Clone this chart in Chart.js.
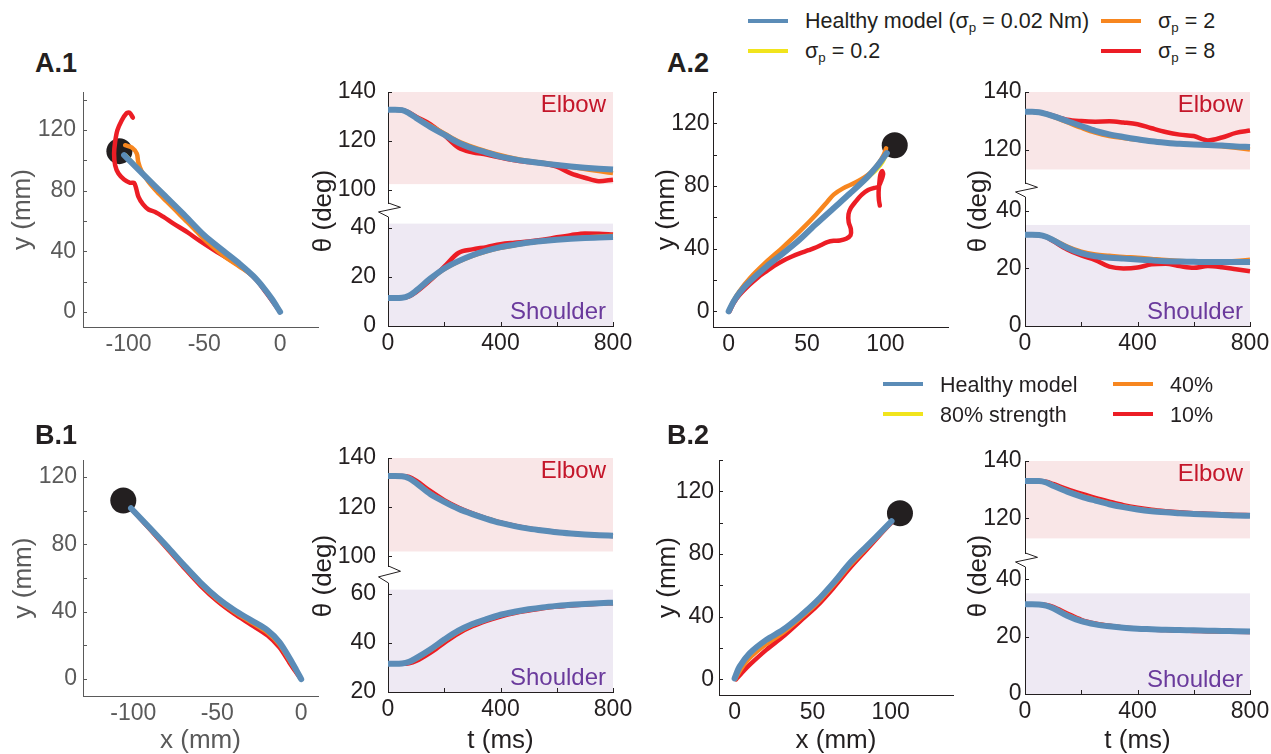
<!DOCTYPE html>
<html>
<head>
<meta charset="utf-8">
<title>Reaching under noise and weakness</title>
<script src="https://cdn.jsdelivr.net/npm/chart.js@4.4.1/dist/chart.umd.min.js"></script>
<style>
  html, body { margin: 0; padding: 0; background: #fff; }
  body { position: relative; width: 1271px; height: 754px; overflow: hidden;
         font-family: "Liberation Sans", Arial, Helvetica, sans-serif; color: #231f20; }
  canvas { position: absolute; }
  .lbl { position: absolute; white-space: nowrap; }
  .sw { position: absolute; height: 4px; width: 40px; }
  sub { font-size: 0.62em; vertical-align: -0.3em; line-height: 0; }
</style>
</head>
<body>
<script>
// ---- shared axes -------------------------------------------------------
const T = [0, 25, 50, 75, 100, 150, 200, 250, 300, 350, 400, 450, 500, 550, 600, 650, 700, 750, 800];
const timeTicks = [0, 200, 400, 600, 800];
const timeLabels = [0, 400, 800];
const trajYTicks = [0, 20, 40, 60, 80, 100, 120, 140];
const trajYTicksB1 = [0, 20, 40, 60, 80, 100, 120];
const trajYLabels = [0, 40, 80, 120];
const trajXLeft = [-100, -50, 0];
const trajXRight = [0, 50, 100];
const elbowTicksWide = [100, 120, 140];
const elbowTicksNarrow = [120, 140];
const shoulderTicks = [0, 20, 40];
const shoulderTicksB1 = [20, 40, 60];

// ---- legends -----------------------------------------------------------
const legendA = ['Healthy model (σ<sub>p</sub> = 0.02 Nm)', 'σ<sub>p</sub> = 0.2', 'σ<sub>p</sub> = 2', 'σ<sub>p</sub> = 8'];
const legendB = ['Healthy model', '80% strength', '40%', '10%'];

// ---- A.1 : motor noise, leftward reach -----------------------------------
const a1Target = [-106, 106];
const a1TrajHealthy = [[-102.9, 103.3], [-90.1, 90.5], [-76.9, 77.4], [-63.7, 64.4], [-50.1, 50.5], [-37.4, 40.2], [-26.4, 31.4], [-17.6, 23.5], [-11, 16], [-5.5, 8.6], [0, 0]];
const a1TrajLow = [[-101.5, 103.5], [-90, 91.3], [-77, 78.4], [-63.7, 65.2], [-50.1, 51], [-37.4, 40.6], [-26.4, 31.6], [-17.6, 23.6], [-11, 16], [-5.5, 8.6], [0, 0]];
const a1TrajMid = [[-102.2, 109.9], [-97.8, 108.4], [-94.5, 104.4], [-93.6, 99], [-91.5, 93], [-87, 86], [-81, 79], [-75, 73], [-69, 67], [-63, 61], [-57, 55], [-51, 48.8], [-44, 42.5], [-36, 36], [-27, 30], [-17.6, 23.3], [-11, 16], [-5.5, 8.6], [0, 0]];
const a1TrajHigh = [[-97.1, 128.1], [-99.3, 131.4], [-101.5, 130.8], [-104.4, 126.4], [-107.3, 119.8], [-108.8, 112.1], [-109.5, 104.4], [-108.8, 96.7], [-106.6, 91.2], [-102.9, 87.3], [-98.9, 85.1], [-96.3, 85.1], [-94.9, 81.3], [-93.4, 75.8], [-90.5, 71], [-86.8, 67.5], [-82.4, 65.9], [-76.9, 62.6], [-70.3, 58.2], [-61.5, 52.7], [-52.7, 46.6], [-41.8, 39.6], [-30.8, 33], [-22, 27], [-15.4, 20.9], [-8.8, 12.1], [0, 0]];
const a1ElbowHealthy = [132.8, 132.8, 132.6, 131.3, 129.4, 125.8, 122.6, 119.3, 117.0, 115.3, 113.6, 112.5, 111.6, 110.9, 110.2, 109.6, 109.1, 108.7, 108.4];
const a1ElbowLow = [132.8, 132.8, 132.6, 131.4, 129.5, 126.0, 122.8, 119.6, 117.3, 115.5, 113.9, 112.7, 111.8, 111.0, 110.3, 109.6, 109.0, 108.5, 108.1];
const a1ElbowMid = [132.8, 132.8, 132.6, 131.4, 129.6, 126.3, 123.1, 119.9, 117.6, 115.8, 114.2, 112.9, 111.9, 111.1, 110.3, 109.5, 108.6, 107.7, 106.9];
const a1ElbowHigh = [132.8, 132.8, 132.7, 131.6, 129.9, 126.9, 122.4, 117.3, 115.4, 114.5, 113.2, 112.1, 111.4, 110.8, 109.5, 106.8, 105.0, 103.6, 104.2];
const a1ShoulderHealthy = [11.4, 11.4, 11.5, 12.4, 14.4, 19.3, 23.5, 26.5, 28.9, 30.8, 32.2, 33.2, 34.1, 34.7, 35.2, 35.6, 35.9, 36.1, 36.3];
const a1ShoulderLow = [11.4, 11.4, 11.5, 12.4, 14.3, 19.2, 23.4, 26.4, 28.8, 30.7, 32.1, 33.2, 34.1, 34.8, 35.3, 35.7, 36.0, 36.3, 36.5];
const a1ShoulderMid = [11.4, 11.4, 11.5, 12.3, 14.2, 19.0, 23.2, 26.2, 28.6, 30.5, 31.9, 33.0, 33.9, 34.6, 35.2, 35.7, 36.1, 36.5, 36.8];
const a1ShoulderHigh = [11.4, 11.4, 11.5, 12.1, 13.8, 18.6, 24.2, 29.8, 31.3, 32.2, 33.4, 34.0, 34.5, 35.2, 36.2, 37.1, 37.8, 37.7, 37.4];
const a1ElbowBand = [102.4, 140];
const a1ShoulderBand = [0, 41.8];

// ---- A.2 : motor noise, rightward reach ----------------------------------
const a2Target = [106, 106];
const a2TrajHealthy = [[0, 0], [3, 6], [7, 12], [13.4, 19], [24, 28.5], [34.7, 37], [45, 45.5], [55, 55], [66.6, 65.5], [77.2, 75], [87.9, 85], [95, 93], [101, 101]];
const a2TrajLow = [[0, 0], [3, 6], [7, 12], [13.4, 19], [24, 28.5], [34.7, 37], [45, 45.5], [55, 55], [66.6, 65.5], [77.2, 74.5], [87.9, 84], [95, 90.5], [98.5, 95], [100.5, 99]];
const a2TrajMid = [[0, 0], [3, 6.5], [7, 13], [13.4, 21], [24, 31.5], [34.7, 41], [45.3, 51], [56, 62], [63, 70], [67, 74.5], [73, 78.5], [81.5, 82.5], [90, 88], [96, 95], [99, 100], [100.5, 104]];
const a2TrajHigh = [[0.6, 0], [3, 5], [7, 10.5], [13.4, 17], [18.5, 21.5], [24, 25.5], [29, 29], [34.7, 32.3], [40, 34.8], [45.3, 37], [51, 39], [56, 40.9], [60, 42.8], [63, 44.2], [67, 45], [71, 45.2], [75, 46.3], [77.8, 48.5], [78, 52.5], [76.6, 57], [76.5, 62], [78, 66], [81, 70], [85, 74.5], [89, 77.5], [93, 78.8], [95.5, 79.5], [97.2, 83], [98.6, 87.5], [98, 89.5], [96.8, 87], [96.2, 82], [95.7, 76], [95.9, 71], [96.5, 67.5]];
const a2ElbowHealthy = [133.1, 133.1, 133.0, 132.4, 131.6, 129.9, 128.2, 126.5, 125.3, 124.4, 123.6, 122.9, 122.4, 122.0, 121.8, 121.6, 121.4, 121.1, 120.9];
const a2ElbowLow = [133.1, 133.1, 133.0, 132.4, 131.6, 129.8, 128.1, 126.5, 125.3, 124.4, 123.6, 123.0, 122.5, 122.1, 121.8, 121.6, 121.4, 121.2, 121.0];
const a2ElbowMid = [133.1, 133.1, 133.0, 132.3, 131.4, 129.5, 127.6, 125.9, 124.7, 124.0, 123.4, 122.9, 122.4, 122.1, 121.8, 121.5, 121.2, 120.6, 120.0];
const a2ElbowHigh = [133.1, 133.1, 133.0, 132.5, 131.8, 130.4, 129.9, 129.7, 129.8, 129.4, 128.8, 127.4, 126.1, 125.2, 124.7, 123.2, 124.2, 125.8, 126.6];
const a2ShoulderHealthy = [31.7, 31.7, 31.6, 31.0, 29.8, 27.2, 25.3, 24.2, 23.7, 23.4, 23.1, 22.8, 22.5, 22.4, 22.3, 22.2, 22.2, 22.2, 22.2];
const a2ShoulderLow = [31.7, 31.7, 31.6, 31.0, 29.9, 27.3, 25.4, 24.3, 23.8, 23.4, 23.1, 22.8, 22.5, 22.3, 22.2, 22.1, 22.1, 22.1, 22.1];
const a2ShoulderMid = [31.7, 31.7, 31.6, 31.1, 30.0, 27.6, 25.8, 24.8, 24.4, 24.0, 23.7, 23.3, 22.9, 22.6, 22.4, 22.3, 22.3, 22.6, 23.0];
const a2ShoulderHigh = [31.7, 31.7, 31.6, 30.9, 29.5, 26.6, 24.5, 22.9, 20.6, 20.0, 20.3, 21.4, 21.6, 20.8, 20.2, 20.8, 20.4, 19.7, 19.0];
const a2ElbowBand = [113.1, 140];
const a2ShoulderBand = [0, 35.1];

// ---- B.1 : weakness, leftward reach --------------------------------------
const b1Target = [-106, 106];
const b1TrajHealthy = [[-101.4, 101.4], [-90, 89.5], [-80, 78.8], [-70, 67.8], [-60, 57.3], [-50, 48.3], [-40, 41], [-30, 35], [-20, 29], [-13, 22], [-7, 12.5], [-3, 5.5], [0, 0]];
const b1TrajLow = [[-101.4, 101.4], [-90, 89.4], [-80, 78.6], [-70, 67.6], [-60, 57.1], [-50, 48.1], [-40, 40.8], [-30, 34.7], [-20, 28.7], [-13, 21.7], [-7, 12.2], [-3, 5.3], [0, 0]];
const b1TrajMid = [[-101.4, 101.4], [-90, 89.1], [-80, 78.2], [-70, 67.1], [-60, 56.5], [-50, 47.4], [-40, 40], [-30, 33.8], [-20, 27.6], [-13, 20.6], [-7, 11.3], [-3, 4.8], [0, 0]];
const b1TrajHigh = [[-101.4, 101.4], [-90, 88.7], [-80, 77.6], [-70, 66.3], [-60, 55.5], [-50, 46.3], [-40, 38.8], [-30, 32.4], [-20, 25.9], [-13, 18.8], [-7, 9.8], [-3, 4], [0, 0]];
const b1ElbowHealthy = [132.7, 132.7, 132.6, 131.7, 129.8, 125.4, 122.2, 119.4, 117.2, 115.3, 113.6, 112.3, 111.3, 110.5, 109.8, 109.3, 108.9, 108.6, 108.4];
const b1ElbowLow = [132.7, 132.7, 132.6, 131.7, 129.9, 125.5, 122.3, 119.4, 117.2, 115.3, 113.6, 112.3, 111.3, 110.5, 109.8, 109.3, 108.9, 108.6, 108.4];
const b1ElbowMid = [132.7, 132.7, 132.6, 131.8, 130.0, 125.7, 122.4, 119.5, 117.3, 115.4, 113.7, 112.4, 111.4, 110.5, 109.8, 109.3, 108.9, 108.6, 108.4];
const b1ElbowHigh = [132.7, 132.7, 132.7, 132.3, 130.8, 126.6, 122.9, 119.9, 117.5, 115.5, 113.8, 112.5, 111.4, 110.6, 109.9, 109.3, 108.9, 108.6, 108.3];
const b1ShoulderHealthy = [31.5, 31.5, 31.6, 32.3, 33.8, 37.3, 41.3, 44.9, 47.6, 49.6, 51.4, 52.6, 53.6, 54.4, 55.0, 55.5, 55.8, 56.1, 56.3];
const b1ShoulderLow = [31.5, 31.5, 31.6, 32.3, 33.7, 37.2, 41.2, 44.8, 47.5, 49.5, 51.3, 52.5, 53.5, 54.3, 55.0, 55.5, 55.8, 56.1, 56.3];
const b1ShoulderMid = [31.5, 31.5, 31.6, 32.1, 33.4, 36.9, 40.9, 44.5, 47.3, 49.4, 51.2, 52.4, 53.4, 54.2, 54.9, 55.4, 55.7, 56.0, 56.2];
const b1ShoulderHigh = [31.5, 31.5, 31.5, 31.7, 32.6, 35.9, 40.0, 43.8, 46.7, 48.9, 50.7, 52.1, 53.1, 54.0, 54.7, 55.2, 55.6, 55.9, 56.1];
const b1ElbowBand = [102, 140];
const b1ShoulderBand = [20, 61.6];

// ---- B.2 : weakness, rightward reach -------------------------------------
const b2Target = [106, 106];
const b2TrajHealthy = [[0, 0.6], [3.2, 8.1], [9.6, 16.6], [20.3, 25.2], [31, 31.6], [41.8, 40.1], [52.5, 49.7], [63.2, 61.4], [73.9, 74.2], [84.6, 84.9], [95.3, 95.5], [100.6, 100.9]];
const b2TrajLow = [[0, 0.5], [3.5, 7.5], [9.6, 15.5], [20.3, 24.3], [31, 31], [41.8, 39.6], [52.5, 49.2], [63.2, 60.9], [73.9, 73.7], [84.6, 84.5], [95.3, 95.3], [100.6, 100.8]];
const b2TrajMid = [[0.5, 0.3], [4, 6.5], [9.6, 13.5], [20.3, 22.5], [31, 29.8], [41.8, 38.7], [52.5, 48.3], [63.2, 60], [73.9, 72.8], [84.6, 83.9], [95.3, 95], [100.6, 100.6]];
const b2TrajHigh = [[1, 0], [5, 4.5], [9.6, 9.2], [20.3, 18.8], [31, 27.3], [41.8, 36.9], [52.5, 46.5], [63.2, 58.2], [73.9, 71], [84.6, 82.7], [95.3, 94.5], [100.6, 100.2]];
const b2ElbowHealthy = [133.0, 133.0, 133.0, 132.5, 131.4, 129.3, 127.6, 126.2, 124.9, 123.9, 123.1, 122.5, 122.1, 121.8, 121.5, 121.3, 121.2, 121.0, 120.9];
const b2ElbowLow = [133.0, 133.0, 133.0, 132.5, 131.5, 129.4, 127.7, 126.3, 125.0, 124.0, 123.2, 122.6, 122.1, 121.8, 121.5, 121.3, 121.2, 121.0, 120.9];
const b2ElbowMid = [133.0, 133.0, 133.0, 132.6, 131.6, 129.6, 127.9, 126.5, 125.2, 124.1, 123.3, 122.7, 122.2, 121.9, 121.6, 121.4, 121.2, 121.1, 121.0];
const b2ElbowHigh = [133.0, 133.0, 133.0, 132.8, 132.0, 130.2, 128.6, 127.1, 125.8, 124.6, 123.7, 123.0, 122.5, 122.1, 121.8, 121.6, 121.4, 121.2, 121.1];
const b2ShoulderHealthy = [31.3, 31.3, 31.2, 30.8, 29.9, 27.3, 25.4, 24.3, 23.6, 23.1, 22.8, 22.6, 22.4, 22.3, 22.2, 22.1, 22.0, 21.9, 21.8];
const b2ShoulderLow = [31.3, 31.3, 31.2, 30.8, 30.0, 27.4, 25.5, 24.4, 23.7, 23.2, 22.9, 22.7, 22.5, 22.4, 22.3, 22.2, 22.1, 22.0, 22.0];
const b2ShoulderMid = [31.3, 31.3, 31.2, 30.9, 30.1, 27.6, 25.6, 24.4, 23.7, 23.2, 22.8, 22.6, 22.4, 22.2, 22.1, 22.0, 21.9, 21.8, 21.7];
const b2ShoulderHigh = [31.3, 31.3, 31.3, 31.1, 30.4, 28.1, 25.9, 24.6, 23.8, 23.2, 22.8, 22.5, 22.3, 22.1, 22.0, 21.9, 21.8, 21.7, 21.6];
const b2ElbowBand = [113, 140];
const b2ShoulderBand = [0, 35.1];

// ---- styles --------------------------------------------------------------
const FONT = '"Liberation Sans", Arial, Helvetica, sans-serif';
Chart.defaults.font.family = FONT;
const KEYS = ['healthy', 'low', 'mid', 'high'];          // first one is drawn on top
const COLOR = { healthy: '#5b8cb7', low: '#f1e41c', mid: '#f7861f', high: '#ec1d25' };
const WIDTH = { healthy: 6, low: 3, mid: 4.5, high: 4.5 };
const INK = '#231f20';
const GREY = '#5a5a5a';
const ELBOW_BG = '#f9e6e7', ELBOW_TXT = '#c4162a';
const SHOULDER_BG = '#eee9f3', SHOULDER_TXT = '#6a3a9c';

// shaded joint band + its name, drawn under everything
const shadePlugin = {
  id: 'shade',
  beforeDraw(chart, args, o) {
    if (!o.color) return;
    const { ctx, chartArea: a, scales: { y } } = chart;
    const top = y.getPixelForValue(o.band[1]);
    const bot = y.getPixelForValue(o.band[0]);
    ctx.save();
    ctx.fillStyle = o.color;
    ctx.fillRect(a.left, top, a.right - a.left, bot - top);
    ctx.fillStyle = o.textColor;
    ctx.font = '24px ' + FONT;
    ctx.textAlign = 'right';
    ctx.textBaseline = 'alphabetic';
    ctx.fillText(o.text, a.right - 7, o.atTop ? a.top + 20 : a.bottom - 7.5);
    ctx.restore();
  }
};

// matlab style ticks pointing into the plot
const inTicksPlugin = {
  id: 'inTicks',
  beforeDatasetsDraw(chart, args, o) {
    if (!o.color) return;
    const { ctx, chartArea: a, scales } = chart;
    ctx.save();
    ctx.strokeStyle = o.color;
    ctx.lineWidth = 1;
    ctx.beginPath();
    if (o.y) scales.y.ticks.forEach((t, i) => {
      const p = Math.round(scales.y.getPixelForTick(i)) + 0.5;
      ctx.moveTo(a.left, p); ctx.lineTo(a.left + 4, p);
    });
    if (o.x) scales.x.ticks.forEach((t, i) => {
      const p = Math.round(scales.x.getPixelForTick(i)) + 0.5;
      ctx.moveTo(p, a.bottom); ctx.lineTo(p, a.bottom - 4);
    });
    ctx.stroke();
    ctx.restore();
  }
};

// zig-zag mark of the broken y axis, below the elbow part
const breakPlugin = {
  id: 'axisBreak',
  afterDraw(chart, args, o) {
    if (!o.gap) return;
    const { ctx, chartArea: a } = chart;
    const x = Math.round(a.left) + 0.5, y = a.bottom, g = o.gap;
    ctx.save();
    ctx.strokeStyle = INK;
    ctx.lineWidth = 1;
    ctx.beginPath();
    ctx.moveTo(x, y);
    ctx.lineTo(x + 12, y + 0.31 * g);
    ctx.lineTo(x - 10, y + 0.64 * g);
    ctx.lineTo(x, y + g);
    ctx.stroke();
    ctx.restore();
  }
};
Chart.register(shadePlugin, inTicksPlugin, breakPlugin);

function addChart(area, pad, config) {
  const L = area.l - pad.l, top = area.t - pad.t;
  const W = area.r + pad.r - L, H = area.b + pad.b - top;
  const c = document.createElement('canvas');
  c.width = W; c.height = H;
  Object.assign(c.style, { left: L + 'px', top: top + 'px', width: W + 'px', height: H + 'px' });
  document.body.appendChild(c);
  return new Chart(c, config);
}

function axis(min, max, ticks, labels, o) {
  return {
    type: 'linear', min, max, display: o.display !== false,
    grid: { display: false, drawTicks: false },
    border: { display: true, color: o.color, width: 1 },
    ticks: {
      color: o.color, font: { size: 23 }, padding: o.pad, autoSkip: false, maxRotation: 0,
      callback: v => labels.includes(v) ? String(v) : ''
    },
    title: o.title ? { display: true, text: o.title, color: o.color, font: { size: 26 }, padding: 0 } : { display: false },
    afterBuildTicks: s => { s.ticks = ticks.map(v => ({ value: v })); },
    afterFit: s => {
      if (o.size != null && s.options.display) {
        if (s.isHorizontal()) s.height = o.size; else s.width = o.size;
      }
      s.paddingLeft = s.paddingRight = s.paddingTop = s.paddingBottom = 0;
    }
  };
}

const baseOpts = () => ({ responsive: false, animation: false, events: [] });

function trajChart(o) {
  const xh = o.xh || 40;
  const datasets = KEYS.map((k, i) => ({
    data: o.lines[i].map(p => ({ x: p[0], y: p[1] })),
    showLine: true, borderColor: COLOR[k], borderWidth: WIDTH[k], pointRadius: 0, tension: 0.3,
    borderJoinStyle: 'round', borderCapStyle: 'round', order: i, clip: false
  }));
  datasets.push({
    data: [{ x: o.target[0], y: o.target[1] }], pointRadius: 13, pointBackgroundColor: INK,
    pointBorderWidth: 0, showLine: false, order: 9, clip: false
  });
  return addChart(o.area, { l: o.yw, t: 14, r: 24, b: xh }, {
    type: 'scatter',
    data: { datasets },
    options: Object.assign(baseOpts(), {
      layout: { padding: { left: 0, top: 14, right: 24, bottom: 0 } },
      plugins: { legend: { display: false }, tooltip: { enabled: false }, inTicks: { y: true, color: o.color } },
      scales: {
        x: axis(o.x[0], o.x[1], o.xTicks, o.xTicks, { color: o.color, pad: 4, size: xh, title: o.xTitle }),
        y: axis(o.y[0], o.y[1], o.yTicks, trajYLabels, { color: o.color, pad: o.pad, size: o.yw, title: 'y (mm)' })
      }
    })
  });
}

function angleChart(o) {
  const datasets = KEYS.map((k, i) => ({
    data: T.map((t, j) => ({ x: t, y: o.series[i][j] })),
    showLine: true, borderColor: COLOR[k], borderWidth: WIDTH[k], pointRadius: 0,
    cubicInterpolationMode: 'monotone', borderJoinStyle: 'round', order: i, clip: false
  }));
  const yw = 70;
  const bottom = o.showX ? o.xh : o.gap + 4;
  const elbow = !o.showX;
  return addChart(o.area, { l: yw, t: 14, r: 24, b: bottom }, {
    type: 'scatter',
    data: { datasets },
    options: Object.assign(baseOpts(), {
      layout: { padding: { left: 0, top: 14, right: 24, bottom: o.showX ? 0 : bottom } },
      plugins: {
        legend: { display: false }, tooltip: { enabled: false },
        shade: {
          band: o.band, color: elbow ? ELBOW_BG : SHOULDER_BG, textColor: elbow ? ELBOW_TXT : SHOULDER_TXT,
          text: elbow ? 'Elbow' : 'Shoulder', atTop: elbow
        },
        inTicks: { y: true, x: o.showX, color: INK },
        axisBreak: { gap: o.showX ? 0 : o.gap }
      },
      scales: {
        x: axis(0, 800, timeTicks, timeLabels, { color: INK, pad: 4, size: o.xh, title: o.xTitle, display: o.showX }),
        y: axis(o.y[0], o.y[1], o.yTicks, o.yTicks, { color: INK, pad: o.pad, size: yw })
      }
    })
  });
}

// ---- trajectories ----------------------------------------------------------
trajChart({ area: { l: 83, t: 92, r: 318, b: 327 }, x: [-130, 25], y: [-10, 145], xTicks: trajXLeft, yTicks: trajYTicks,
  lines: [a1TrajHealthy, a1TrajLow, a1TrajMid, a1TrajHigh], target: a1Target, yw: 76, pad: 7, color: GREY });
trajChart({ area: { l: 713, t: 92, r: 948, b: 327 }, x: [-10, 140], y: [-10, 140], xTicks: trajXRight, yTicks: trajYTicks,
  lines: [a2TrajHealthy, a2TrajLow, a2TrajMid, a2TrajHigh], target: a2Target, yw: 62, pad: 3.5, color: INK });
trajChart({ area: { l: 83, t: 460, r: 318, b: 696 }, x: [-130, 10], y: [-10, 130], xTicks: trajXLeft, yTicks: trajYTicksB1,
  lines: [b1TrajHealthy, b1TrajLow, b1TrajMid, b1TrajHigh], target: b1Target, yw: 75, pad: 6, color: GREY,
  xTitle: 'x (mm)', xh: 60 });
trajChart({ area: { l: 719, t: 460, r: 953, b: 695 }, x: [-10, 140], y: [-10, 140], xTicks: trajXRight, yTicks: trajYTicks,
  lines: [b2TrajHealthy, b2TrajLow, b2TrajMid, b2TrajHigh], target: b2Target, yw: 67, pad: 5, color: INK,
  xTitle: 'x (mm)', xh: 61 });

// ---- joint angles (broken y axis: elbow on top, shoulder below) ------------
angleChart({ area: { l: 388, t: 92, r: 613, b: 203 }, y: [94.7, 140], yTicks: elbowTicksWide, band: a1ElbowBand,
  series: [a1ElbowHealthy, a1ElbowLow, a1ElbowMid, a1ElbowHigh], showX: false, gap: 14, pad: 12 });
angleChart({ area: { l: 388, t: 217, r: 613, b: 326 }, y: [0, 44.5], yTicks: shoulderTicks, band: a1ShoulderBand,
  series: [a1ShoulderHealthy, a1ShoulderLow, a1ShoulderMid, a1ShoulderHigh], showX: true, xh: 40, pad: 12 });
angleChart({ area: { l: 1025, t: 92, r: 1250, b: 183 }, y: [108.4, 140], yTicks: elbowTicksNarrow, band: a2ElbowBand,
  series: [a2ElbowHealthy, a2ElbowLow, a2ElbowMid, a2ElbowHigh], showX: false, gap: 14, pad: 3.5 });
angleChart({ area: { l: 1025, t: 197, r: 1250, b: 326 }, y: [0, 44.8], yTicks: shoulderTicks, band: a2ShoulderBand,
  series: [a2ShoulderHealthy, a2ShoulderLow, a2ShoulderMid, a2ShoulderHigh], showX: true, xh: 40, pad: 3.5 });
angleChart({ area: { l: 388, t: 458, r: 613, b: 566 }, y: [96.1, 140], yTicks: elbowTicksWide, band: b1ElbowBand,
  series: [b1ElbowHealthy, b1ElbowLow, b1ElbowMid, b1ElbowHigh], showX: false, gap: 17, pad: 12 });
angleChart({ area: { l: 388, t: 583, r: 613, b: 692 }, y: [20, 64.3], yTicks: shoulderTicksB1, band: b1ShoulderBand,
  series: [b1ShoulderHealthy, b1ShoulderLow, b1ShoulderMid, b1ShoulderHigh], showX: true, xh: 64, pad: 12, xTitle: 't (ms)' });
angleChart({ area: { l: 1025, t: 461, r: 1250, b: 553 }, y: [107.9, 140], yTicks: elbowTicksNarrow, band: b2ElbowBand,
  series: [b2ElbowHealthy, b2ElbowLow, b2ElbowMid, b2ElbowHigh], showX: false, gap: 14, pad: 3.5 });
angleChart({ area: { l: 1025, t: 567, r: 1250, b: 694 }, y: [0, 44.3], yTicks: shoulderTicks, band: b2ShoulderBand,
  series: [b2ShoulderHealthy, b2ShoulderLow, b2ShoulderMid, b2ShoulderHigh], showX: true, xh: 62, pad: 3.5, xTitle: 't (ms)' });

// ---- text: panel letters, shared theta labels, legends -------------------
function addText(html, x, baseline, size, extra) {
  const d = document.createElement('div');
  d.className = 'lbl';
  d.innerHTML = html;
  Object.assign(d.style, {
    left: x + 'px', top: (baseline - 0.8465 * size) + 'px',
    fontSize: size + 'px', lineHeight: size + 'px'
  }, extra || {});
  document.body.appendChild(d);
}
function addRotated(text, cx, cy, size) {
  const d = document.createElement('div');
  d.className = 'lbl';
  d.textContent = text;
  Object.assign(d.style, {
    left: cx + 'px', top: cy + 'px', fontSize: size + 'px', lineHeight: size + 'px',
    transform: 'translate(-50%, -50%) rotate(-90deg)'
  });
  document.body.appendChild(d);
}
function addLegend(labels, slots) {
  labels.forEach((html, i) => {
    const s = slots[i];
    const sw = document.createElement('div');
    sw.className = 'sw';
    Object.assign(sw.style, { left: s[0] + 'px', top: (s[1] - 2) + 'px', background: COLOR[KEYS[i]] });
    document.body.appendChild(sw);
    addText(html, s[0] + 57, s[1] + 8.5, 21.5);
  });
}

addText('A.1', 35, 73, 27, { fontWeight: 'bold' });
addText('A.2', 667, 73, 27, { fontWeight: 'bold' });
addText('B.1', 35, 445, 27, { fontWeight: 'bold' });
addText('B.2', 667, 445, 27, { fontWeight: 'bold' });

addRotated('θ (deg)', 322, 211, 26);
addRotated('θ (deg)', 977, 211, 26);
addRotated('θ (deg)', 322, 576, 26);
addRotated('θ (deg)', 977, 576, 26);

addLegend(legendA, [[748, 20.7], [748, 50.7], [1101, 20.7], [1101, 50.7]]);
addLegend(legendB, [[883, 384.3], [883, 414.3], [1113, 384.3], [1113, 414.3]]);
</script>
</body>
</html>
